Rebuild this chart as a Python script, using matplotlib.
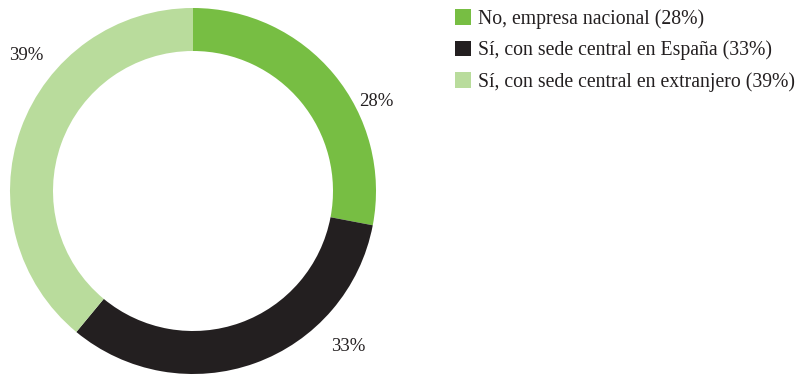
import matplotlib
matplotlib.use("Agg")
import matplotlib.pyplot as plt
import numpy as np

# Ownership of the company
labels = ["No, empresa nacional", "Sí, con sede central en España", "Sí, con sede central en extranjero"]
shares = [28, 33, 39]
colors = ["#77BE43", "#231F20", "#B9DC9C"]

# where the percentage labels sit (angle in degrees, distance in px from centre)
label_angles = [26, -45, 141]
label_dist = [204, 220, 215]

plt.rcParams["font.family"] = ["Liberation Serif", "DejaVu Serif"]

fig = plt.figure(figsize=(7.95, 3.75), dpi=100)
ax = fig.add_axes([0, 0, 1, 1])

cx, cy, R = 193, 184, 183
wedges, _ = ax.pie(shares, colors=colors, startangle=90, counterclock=False,
                   center=(cx, cy), radius=R,
                   wedgeprops=dict(width=43, linewidth=0))

for v, a, d in zip(shares, label_angles, label_dist):
    t = np.deg2rad(a)
    ax.text(cx + d * np.cos(t), cy + d * np.sin(t), f"{v}%",
            ha="center", va="center", fontsize=13.5, color="#231F20")

ax.set_xlim(0, 795)
ax.set_ylim(0, 375)
ax.set_aspect("equal")
ax.axis("off")

leg = ax.legend(wedges, [f"{l} ({v}%)" for l, v in zip(labels, shares)],
                loc="upper left", bbox_to_anchor=(455 / 795, 1 - 9 / 375),
                frameon=False, fontsize=14.2, handlelength=0.82, handleheight=0.82,
                handletextpad=0.35, labelspacing=0.6, borderaxespad=0, borderpad=0)
for txt in leg.get_texts():
    txt.set_color("#231F20")

fig.savefig("out.png", dpi=100)
